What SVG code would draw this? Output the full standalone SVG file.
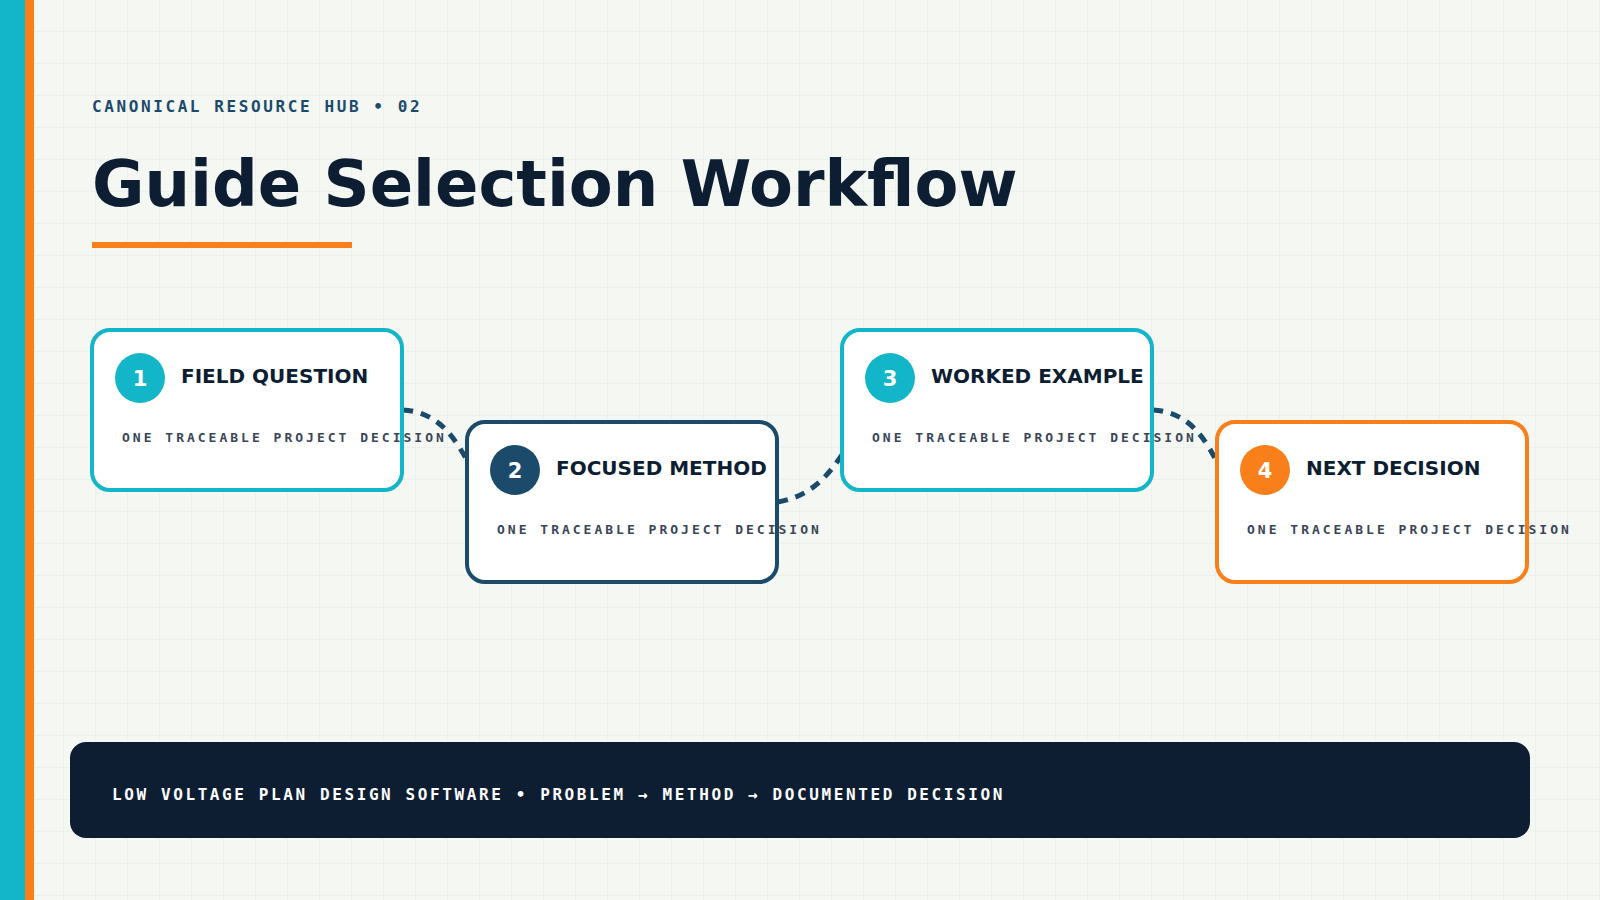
<svg xmlns="http://www.w3.org/2000/svg" width="1600" height="900" viewBox="0 0 1600 900">
<defs>
<pattern id="grid" width="32" height="32" patternUnits="userSpaceOnUse"><path d="M32 0V32H0" fill="none" stroke="#e3ebe6" stroke-width="1"/></pattern>
<style>
.card{fill:#fff;stroke-width:4}
.t{font-family:"DejaVu Sans",sans-serif;font-weight:bold;font-size:20px;fill:#0d1e33}
.n{font-family:"DejaVu Sans",sans-serif;font-weight:bold;font-size:21px;fill:#fff;text-anchor:middle}
.s{font-family:"DejaVu Sans Mono",monospace;font-weight:bold;font-size:13px;fill:#3a4658;letter-spacing:3px}
.c{fill:none;stroke:#1b4a6b;stroke-width:5;stroke-dasharray:10 8}
</style>
</defs>
<rect width="1600" height="900" fill="#f5f7f3"/>
<rect width="1600" height="900" fill="url(#grid)"/>
<rect x="0" y="0" width="25" height="900" fill="#13b6c8"/>
<rect x="25" y="0" width="9" height="900" fill="#f97f1b"/>
<text x="92" y="112" font-family="DejaVu Sans Mono,monospace" font-weight="bold" font-size="16" letter-spacing="2.6" fill="#1b4a6b">CANONICAL RESOURCE HUB • 02</text>
<text x="92" y="206" font-family="DejaVu Sans,sans-serif" font-weight="bold" font-size="64" fill="#0d1e33">Guide Selection Workflow</text>
<rect x="92" y="242" width="260" height="6" fill="#f97f1b"/>
<g id="connectors">
<path class="c" d="M403 410 C440 412 455 440 467 460"/>
<path class="c" d="M778 502 C812 496 828 475 842 455"/>
<path class="c" d="M1153 410 C1190 412 1205 440 1216 460"/>
</g>
<g id="node1"><rect class="card" x="92" y="330" width="310" height="160" rx="18" stroke="#13b6c8"/><circle cx="140" cy="378" r="25" fill="#13b6c8"/><text class="n" x="140" y="385.5">1</text><text class="t" x="181" y="383">FIELD QUESTION</text><text class="s" x="122" y="442">ONE TRACEABLE PROJECT DECISION</text></g>
<g id="node2"><rect class="card" x="467" y="422" width="310" height="160" rx="18" stroke="#1b4a6b"/><circle cx="515" cy="470" r="25" fill="#1b4a6b"/><text class="n" x="515" y="477.5">2</text><text class="t" x="556" y="475">FOCUSED METHOD</text><text class="s" x="497" y="534">ONE TRACEABLE PROJECT DECISION</text></g>
<g id="node3"><rect class="card" x="842" y="330" width="310" height="160" rx="18" stroke="#13b6c8"/><circle cx="890" cy="378" r="25" fill="#13b6c8"/><text class="n" x="890" y="385.5">3</text><text class="t" x="931" y="383">WORKED EXAMPLE</text><text class="s" x="872" y="442">ONE TRACEABLE PROJECT DECISION</text></g>
<g id="node4"><rect class="card" x="1217" y="422" width="310" height="160" rx="18" stroke="#f97f1b"/><circle cx="1265" cy="470" r="25" fill="#f97f1b"/><text class="n" x="1265" y="477.5">4</text><text class="t" x="1306" y="475">NEXT DECISION</text><text class="s" x="1247" y="534">ONE TRACEABLE PROJECT DECISION</text></g>
<rect x="70" y="742" width="1460" height="96" rx="16" fill="#0d1e33"/>
<text x="112" y="800" font-family="DejaVu Sans Mono,monospace" font-weight="bold" font-size="16" letter-spacing="2.6" fill="#fff">LOW VOLTAGE PLAN DESIGN SOFTWARE • PROBLEM → METHOD → DOCUMENTED DECISION</text>
</svg>
